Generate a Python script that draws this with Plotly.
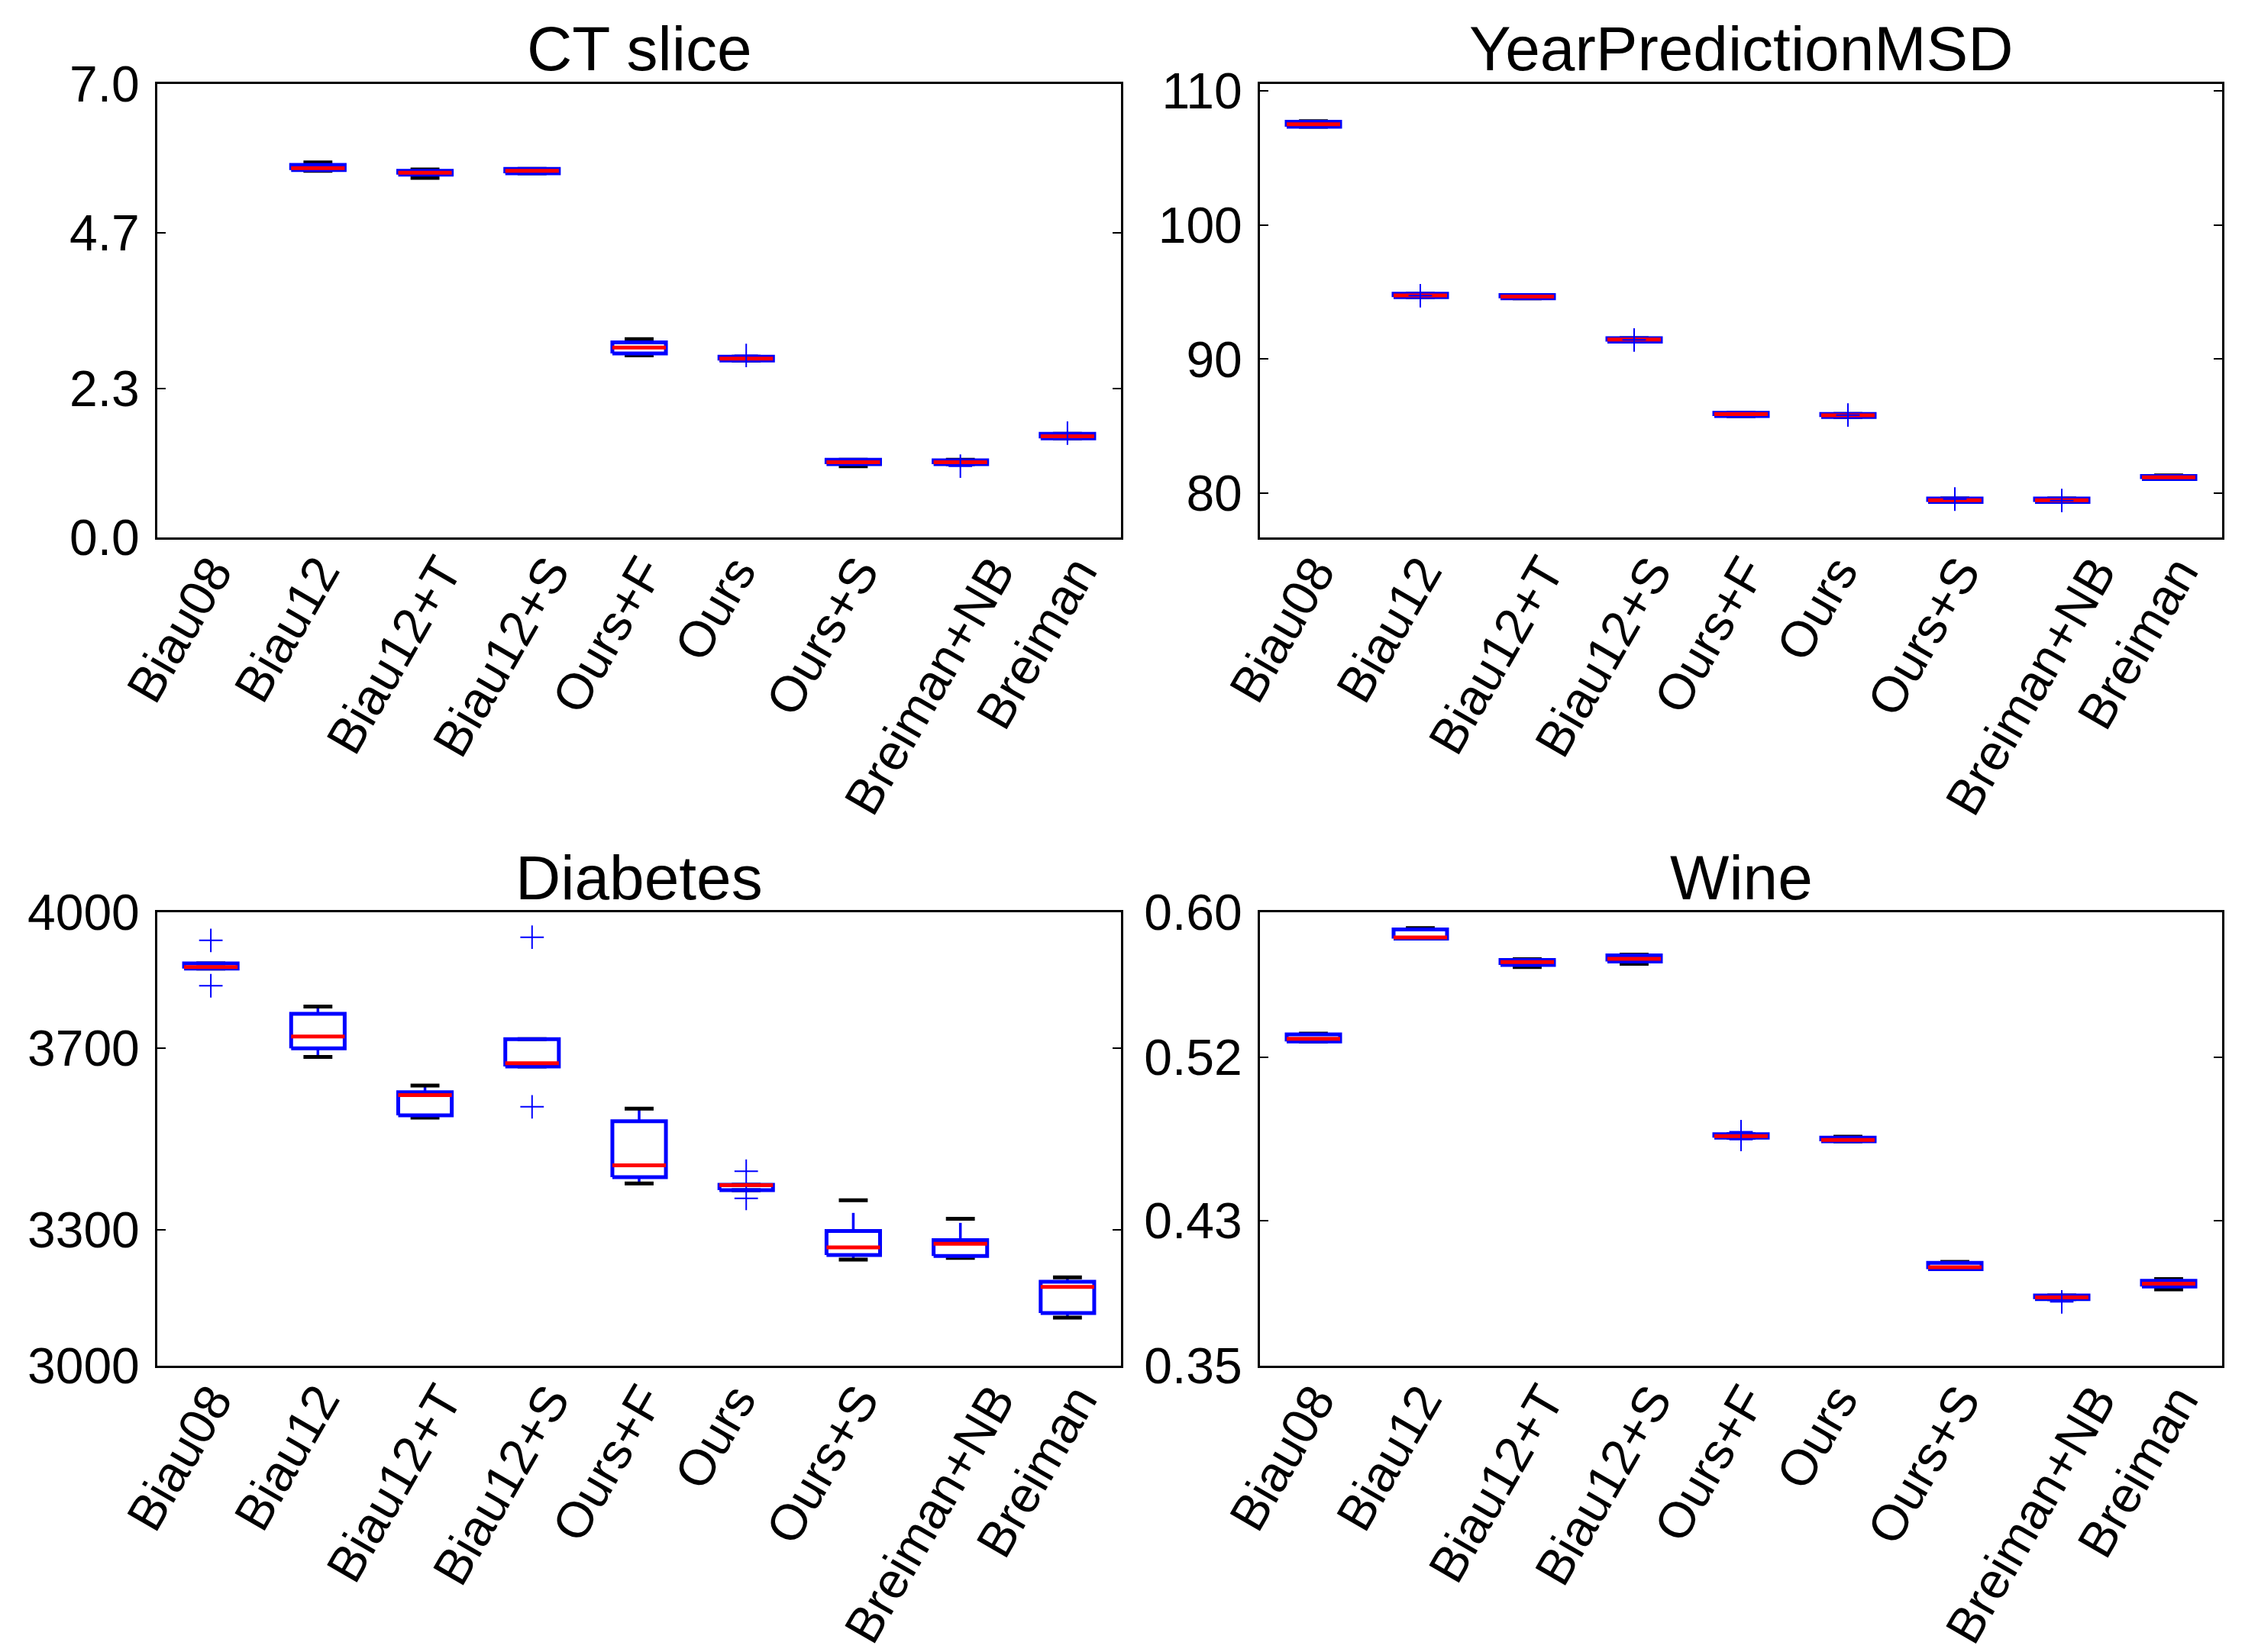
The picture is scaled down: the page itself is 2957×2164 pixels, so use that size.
import plotly.graph_objects as go
from plotly.subplots import make_subplots

methods = ["Biau08", "Biau12", "Biau12+T", "Biau12+S", "Ours+F", "Ours", "Ours+S", "Breiman+NB", "Breiman"]

# ---- CT slice (Biau08 not available) ----
ct_q1 = [None, 5.67, 5.60, 5.62, 2.84, 2.73, 1.13, 1.13, 1.53]
ct_med = [None, 5.70, 5.63, 5.66, 2.93, 2.76, 1.16, 1.16, 1.56]
ct_q3 = [None, 5.75, 5.66, 5.69, 3.01, 2.79, 1.20, 1.19, 1.60]
ct_wlo = [None, 5.66, 5.55, 5.62, 2.81, 2.73, 1.10, 1.13, 1.53]
ct_whi = [None, 5.79, 5.68, 5.69, 3.06, 2.79, 1.20, 1.20, 1.60]
ct_out = [[], [], [], [], [], [2.81], [], [1.10], [1.61]]
ct_ticks = [0.0, 2.3, 4.7, 7.0]
ct_ticktext = ["0.0", "2.3", "4.7", "7.0"]

# ---- YearPredictionMSD ----
yr_q1 = [107.33, 94.62, 94.54, 91.30, 85.75, 85.68, 79.35, 79.35, 81.05]
yr_med = [107.52, 94.75, 94.67, 91.46, 85.89, 85.81, 79.48, 79.48, 81.18]
yr_q3 = [107.70, 94.88, 94.78, 91.56, 85.99, 85.91, 79.61, 79.61, 81.28]
yr_wlo = [107.33, 94.62, 94.54, 91.30, 85.75, 85.68, 79.35, 79.35, 81.05]
yr_whi = [107.75, 94.88, 94.78, 91.56, 85.99, 85.91, 79.61, 79.61, 81.33]
yr_out = [[], [94.73], [], [91.43], [], [85.83], [79.56], [79.45], []]
yr_ticks = [80, 90, 100, 110]
yr_ticktext = ["80", "90", "100", "110"]

# ---- Diabetes ----
db_q1 = [3876, 3700, 3552, 3660, 3416, 3387, 3244, 3242, 3116]
db_med = [3879, 3726, 3597, 3667, 3442, 3398, 3261, 3269, 3174]
db_q3 = [3887, 3776, 3603, 3720, 3539, 3399, 3297, 3277, 3185]
db_wlo = [3876, 3681, 3547, 3660, 3402, 3387, 3234, 3238, 3106]
db_whi = [3887, 3792, 3618, 3720, 3567, 3399, 3337, 3315, 3195]
db_caplo = [3876, 3681, 3547, 3660, 3402, 3387, 3234, 3238, 3106]
db_caphi = [3887, 3792, 3618, 3720, 3567, 3399, 3365, 3324, 3195]
db_out = [[3938, 3838], [], [], [3945, 3571], [], [3429, 3369], [], [], []]
db_ticks = [3000, 3300, 3700, 4000]
db_ticktext = ["3000", "3300", "3700", "4000"]

# ---- Wine ----
wn_q1 = [0.5288, 0.5855, 0.5710, 0.5729, 0.4757, 0.4737, 0.4032, 0.3867, 0.3937]
wn_med = [0.5302, 0.5861, 0.5725, 0.5743, 0.4766, 0.4745, 0.4043, 0.3877, 0.3952]
wn_q3 = [0.5327, 0.5905, 0.5737, 0.5762, 0.4776, 0.4757, 0.4067, 0.3887, 0.3968]
wn_wlo = [0.5288, 0.5855, 0.5698, 0.5716, 0.4757, 0.4737, 0.4032, 0.3867, 0.3921]
wn_whi = [0.5331, 0.5913, 0.5741, 0.5766, 0.4776, 0.4763, 0.4072, 0.3887, 0.3978]
wn_out = [[], [], [], [], [0.4790, 0.4747], [], [], [0.3852], []]
wn_ticks = [0.35, 0.43, 0.52, 0.60]
wn_ticktext = ["0.35", "0.43", "0.52", "0.60"]

FONT = "Liberation Sans, Arial, Helvetica, sans-serif"
BOX_HALF = 0.25
CAP_HALF = 0.135
BLUE, RED, BLACK = "#0000ff", "#ff0000", "#000000"

fig = make_subplots(rows=2, cols=2)


def add_boxes(row, col, q1, med, q3, wlo, whi, outs, caplo=None, caphi=None):
    caplo = caplo if caplo is not None else wlo
    caphi = caphi if caphi is not None else whi
    wx, wy, cx, cy, bx, by, mx, my, ox, oy = [], [], [], [], [], [], [], [], [], []
    for i in range(len(methods)):
        p = i + 1
        if q1[i] is not None:
            wx += [p, p, None, p, p, None]
            wy += [q3[i], whi[i], None, q1[i], wlo[i], None]
            cx += [p - CAP_HALF, p + CAP_HALF, None, p - CAP_HALF, p + CAP_HALF, None]
            cy += [caphi[i], caphi[i], None, caplo[i], caplo[i], None]
            bx += [p - BOX_HALF, p + BOX_HALF, p + BOX_HALF, p - BOX_HALF, p - BOX_HALF, None]
            by += [q1[i], q1[i], q3[i], q3[i], q1[i], None]
            mx += [p - BOX_HALF, p + BOX_HALF, None]
            my += [med[i], med[i], None]
        for v in outs[i]:
            ox.append(p)
            oy.append(v)
    common = dict(mode="lines", showlegend=False, hoverinfo="skip")
    fig.add_trace(go.Scatter(x=wx, y=wy, line=dict(color=BLUE, width=3.5), **common), row=row, col=col)
    fig.add_trace(go.Scatter(x=cx, y=cy, line=dict(color=BLACK, width=5), **common), row=row, col=col)
    fig.add_trace(go.Scatter(x=bx, y=by, line=dict(color=BLUE, width=5), **common), row=row, col=col)
    fig.add_trace(go.Scatter(x=mx, y=my, line=dict(color=RED, width=5), **common), row=row, col=col)
    fig.add_trace(go.Scatter(x=ox, y=oy, mode="markers", showlegend=False, hoverinfo="skip",
                             marker=dict(symbol="cross-thin-open", size=22, color=BLUE,
                                         line=dict(color=BLUE, width=2))),
                  row=row, col=col)


add_boxes(1, 1, ct_q1, ct_med, ct_q3, ct_wlo, ct_whi, ct_out)
add_boxes(1, 2, yr_q1, yr_med, yr_q3, yr_wlo, yr_whi, yr_out)
add_boxes(2, 1, db_q1, db_med, db_q3, db_wlo, db_whi, db_out, db_caplo, db_caphi)
add_boxes(2, 2, wn_q1, wn_med, wn_q3, wn_wlo, wn_whi, wn_out)

W, H = 2957, 2164
OFF = 8  # page body offset


def fx(px):
    return (px - OFF) / W


def fy(py):
    return 1 - (py - OFF) / H


xdom = {1: [fx(206), fx(1468)], 2: [fx(1650), fx(2910)]}
ydom = {1: [fy(704), fy(110)], 2: [fy(1789), fy(1195)]}

yspec = {
    (1, 1): ([0, 7.0], ct_ticks, ct_ticktext),
    (1, 2): ([76.7, 110.52], yr_ticks, yr_ticktext),
    (2, 1): ([3000, 4000], db_ticks, db_ticktext),
    (2, 2): ([0.35, 0.60], wn_ticks, wn_ticktext),
}

axis_ids = {(1, 1): ("x", "y"), (1, 2): ("x2", "y2"), (2, 1): ("x3", "y3"), (2, 2): ("x4", "y4")}

for (r, c), (rng, tv, tt) in yspec.items():
    fig.update_xaxes(row=r, col=c, domain=xdom[c], range=[0.5, 9.5],
                     tickmode="array", tickvals=list(range(1, len(methods) + 1)),
                     showticklabels=False, ticks="", showgrid=False, zeroline=False,
                     showline=True, linecolor="black", linewidth=3, mirror=True,
                     automargin=False)
    fig.update_yaxes(row=r, col=c, domain=ydom[r], range=rng,
                     tickmode="array", tickvals=tv, ticktext=tt,
                     ticks="inside", ticklen=11, tickwidth=2, tickcolor="black",
                     showgrid=False, zeroline=False,
                     showline=True, linecolor="black", linewidth=3, mirror="ticks",
                     tickfont=dict(family=FONT, size=66, color="black"),
                     ticklabelstandoff=7, automargin=False)
    # rotated category labels, centred below each category (matplotlib style)
    xa, ya = axis_ids[(r, c)]
    for i, m in enumerate(methods):
        fig.add_annotation(text=m, x=i + 1 - 0.29, y=-10 / 594, xref=xa, yref=ya + " domain",
                           xanchor="center", yanchor="top", textangle=-60, showarrow=False,
                           font=dict(family=FONT, size=66, color="black"))

titles = [("CT slice", (206 + 1468) / 2, 64), ("YearPredictionMSD", (1650 + 2910) / 2, 64),
          ("Diabetes", (206 + 1468) / 2, 1149), ("Wine", (1650 + 2910) / 2, 1149)]
for txt, px, py in titles:
    fig.add_annotation(text=txt, x=fx(px), y=fy(py), xref="paper", yref="paper",
                       xanchor="center", yanchor="middle", showarrow=False,
                       font=dict(family=FONT, size=82, color="black"))

fig.update_layout(width=W, height=H, margin=dict(l=0, r=0, t=0, b=0),
                  paper_bgcolor="white", plot_bgcolor="white", template="none")

fig.write_html("out.html")
